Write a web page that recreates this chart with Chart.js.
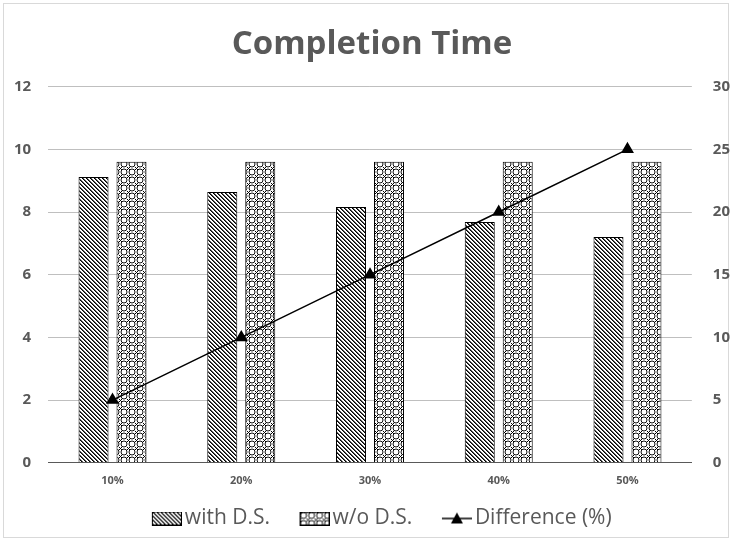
<!DOCTYPE html>
<html>
<head>
<meta charset="utf-8">
<script src="https://cdn.jsdelivr.net/npm/chart.js@4.4.0/dist/chart.umd.min.js"></script>
<style>
  html, body { margin: 0; padding: 0; background: #fff; }
  #wrap { width: 732px; height: 541px; }
</style>
</head>
<body>
<div id="wrap"><canvas id="chart"></canvas></div>
<script>
// datos
const categories = ['10%', '20%', '30%', '40%', '50%'];
const withDS = [9.12, 8.64, 8.16, 7.68, 7.2];
const withoutDS = [9.6, 9.6, 9.6, 9.6, 9.6];
const difference = [5, 10, 15, 20, 25];
const leftTicks = [0, 2, 4, 6, 8, 10, 12];
const rightTicks = [0, 5, 10, 15, 20, 25, 30];

const grey = '#595959';
const fontFamily = '"Open Sans", Lato, sans-serif';

// trama diagonal para "with D.S."
function makeDiagonal() {
    const c = document.createElement('canvas');
    c.width = 4; c.height = 4;
    const g = c.getContext('2d');
    g.fillStyle = '#fff';
    g.fillRect(0, 0, 4, 4);
    for (let i = 0; i < 4; i++) {
        g.fillStyle = '#000';
        g.fillRect(i, i, 1, 1);
        g.fillStyle = '#555';
        g.fillRect((i + 1) % 4, i, 1, 1);
    }
    return c;
}

// trama de circulos para "w/o D.S."
function makeCircles() {
    const c = document.createElement('canvas');
    c.width = 8; c.height = 8;
    const g = c.getContext('2d');
    g.fillStyle = '#fff';
    g.fillRect(0, 0, 8, 8);
    g.strokeStyle = '#111';
    g.lineWidth = 1;
    g.beginPath();
    g.arc(4, 4, 3, 0, Math.PI * 2);
    g.stroke();
    // pequena cruz en las esquinas
    g.fillStyle = '#000';
    [[0, 0], [1, 1], [7, 7], [1, 7], [7, 1]].forEach(p => g.fillRect(p[0], p[1], 1, 1));
    return c;
}

const ctx = document.getElementById('chart').getContext('2d');
const diagPattern = ctx.createPattern(makeDiagonal(), 'repeat');
const circPattern = ctx.createPattern(makeCircles(), 'repeat');

// iconos de la leyenda: lienzo ancho con el dibujo a la derecha
const iconW = 57;
function legendBox(pattern) {
    const c = document.createElement('canvas');
    c.width = iconW; c.height = 14;
    const g = c.getContext('2d');
    g.translate(iconW - 30, 0);
    g.fillStyle = pattern;
    g.fillRect(0, 0, 30, 14);
    g.strokeStyle = '#000';
    g.lineWidth = 1;
    g.strokeRect(0.5, 0.5, 29, 13);
    return c;
}

function legendLine() {
    const c = document.createElement('canvas');
    c.width = iconW; c.height = 14;
    const g = c.getContext('2d');
    g.translate(iconW - 30, 0);
    g.strokeStyle = '#000';
    g.lineWidth = 1.5;
    g.beginPath();
    g.moveTo(0, 7); g.lineTo(30, 7);
    g.stroke();
    g.fillStyle = '#000';
    g.beginPath();
    g.moveTo(15, 1); g.lineTo(21, 12); g.lineTo(9, 12);
    g.closePath();
    g.fill();
    return c;
}

const legendIcons = [legendBox(diagPattern), legendBox(circPattern), legendLine()];

const borderPlugin = {
    id: 'outerBorder',
    beforeDraw(chart) {
        const c = chart.ctx;
        c.save();
        c.fillStyle = '#fff';
        c.fillRect(0, 0, chart.width, chart.height);
        c.strokeStyle = '#d9d9d9';
        c.lineWidth = 1;
        c.strokeRect(3.5, 3.5, chart.width - 7, chart.height - 7);
        c.restore();
    }
};

// Chart.js deja el padding de los ticks a los dos lados; quitamos el de fuera
function trimWidth(axis) { axis.width -= axis.options.ticks.padding; }

new Chart(ctx, {
    type: 'bar',
    data: {
        labels: categories,
        datasets: [{
            type: 'line',
            label: 'Difference (%)',
            data: difference,
            yAxisID: 'y1',
            borderColor: '#000',
            backgroundColor: '#000',
            borderWidth: 1.5,
            pointStyle: 'triangle',
            pointRadius: 6,
            pointHoverRadius: 6,
            tension: 0,
            order: 0
        }, {
            label: 'with D.S.',
            data: withDS,
            yAxisID: 'y',
            backgroundColor: diagPattern,
            borderColor: '#000',
            borderWidth: 1,
            categoryPercentage: 0.59,
            barPercentage: 0.79,
            order: 1
        }, {
            label: 'w/o D.S.',
            data: withoutDS,
            yAxisID: 'y',
            backgroundColor: circPattern,
            borderColor: '#000',
            borderWidth: 1,
            categoryPercentage: 0.59,
            barPercentage: 0.79,
            order: 1
        }]
    },
    options: {
        responsive: true,
        maintainAspectRatio: false,
        animation: false,
        layout: {
            padding: { left: 14, right: 2, top: 0, bottom: 2 }
        },
        scales: {
            x: {
                offset: true,
                grid: { display: false, drawTicks: false },
                border: { display: true, color: '#595959', width: 1 },
                ticks: {
                    color: grey,
                    padding: 11,
                    font: { family: fontFamily, size: 11, weight: 'bold' }
                }
            },
            y: {
                position: 'left',
                min: 0,
                max: 12,
                afterBuildTicks(axis) { axis.ticks = leftTicks.map(v => ({ value: v })); },
                afterFit: trimWidth,
                grid: { color: '#bfbfbf', drawTicks: false },
                border: { display: false },
                ticks: {
                    color: grey,
                    padding: 17,
                    font: { family: fontFamily, size: 15, weight: 'bold' }
                }
            },
            y1: {
                position: 'right',
                min: 0,
                max: 30,
                afterBuildTicks(axis) { axis.ticks = rightTicks.map(v => ({ value: v })); },
                afterFit: trimWidth,
                grid: { display: false, drawTicks: false },
                border: { display: false },
                ticks: {
                    color: grey,
                    padding: 21,
                    font: { family: fontFamily, size: 15, weight: 'bold' }
                }
            }
        },
        plugins: {
            title: {
                display: true,
                text: 'Completion Time',
                color: grey,
                font: { family: fontFamily, size: 33, weight: 'bold' },
                padding: { top: 25, bottom: 22 }
            },
            legend: {
                display: true,
                position: 'bottom',
                labels: {
                    color: grey,
                    font: { family: fontFamily, size: 21 },
                    usePointStyle: true,
                    pointStyleWidth: 42,
                    padding: 10,
                    generateLabels(chart) {
                        const order = [1, 2, 0];
                        return order.map((idx, i) => ({
                            text: chart.data.datasets[idx].label,
                            datasetIndex: idx,
                            pointStyle: legendIcons[i],
                            fontColor: grey,
                            hidden: false,
                            lineWidth: 0
                        }));
                    }
                }
            },
            tooltip: { enabled: false }
        }
    },
    plugins: [borderPlugin]
});
</script>
</body>
</html>
